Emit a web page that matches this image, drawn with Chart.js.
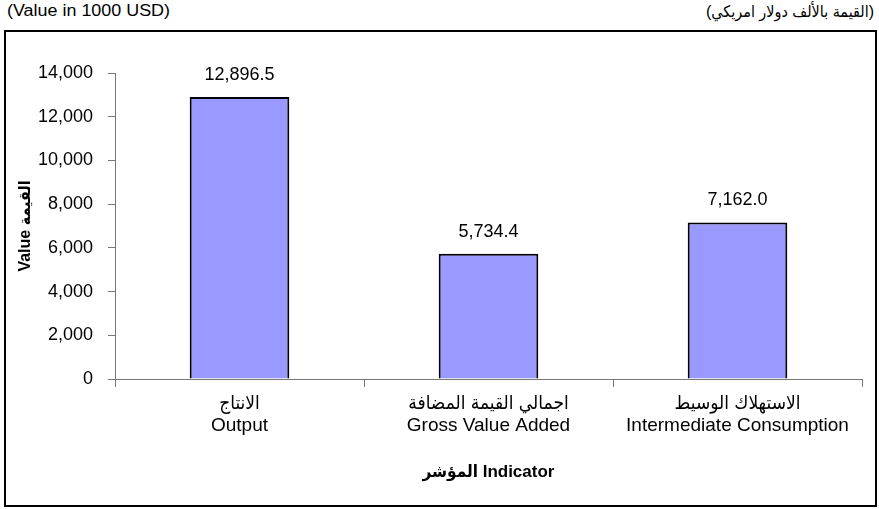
<!DOCTYPE html>
<html>
<head>
<meta charset="utf-8">
<script src="https://cdn.jsdelivr.net/npm/chart.js@4.4.0/dist/chart.umd.min.js"></script>
<style>
  html, body { margin: 0; padding: 0; background: #fff; }
  body { width: 879px; height: 509px; position: relative; font-family: "Liberation Sans", "DejaVu Sans Condensed", Arial, sans-serif; }
  .unit { position: absolute; top: 2px; font-size: 16px; color: #000; white-space: nowrap; }
  #unitEn { left: 7px; transform: scaleX(1.12); transform-origin: left center; }
  #unitAr { right: 5px; direction: rtl; font-size: 16px; top: 2px; }
  #box { position: absolute; left: 4px; top: 30px; width: 869px; height: 473px; border: 2px solid #000; }
  #box canvas { display: block; }
</style>
</head>
<body>
<div class="unit" id="unitEn">(Value in 1000 USD)</div>
<div class="unit" id="unitAr">(القيمة بالألف دولار امريكي)</div>
<div id="box"><canvas id="chart" width="869" height="473"></canvas></div>
<script>
const categories = [
  ['الانتاج', 'Output'],
  ['اجمالي القيمة المضافة', 'Gross Value Added'],
  ['الاستهلاك الوسيط', 'Intermediate Consumption']
];
const values = [12896.5, 5734.4, 7162.0];
const yTicks = [0, 2000, 4000, 6000, 8000, 10000, 12000, 14000];

const FONT = '"Liberation Sans", "DejaVu Sans Condensed", Arial, sans-serif';

// numbers above the bars
const valueLabels = {
  id: 'valueLabels',
  afterDatasetsDraw(chart) {
    const ctx = chart.ctx;
    const meta = chart.getDatasetMeta(0);
    ctx.save();
    ctx.font = '18px ' + FONT;
    ctx.fillStyle = '#000';
    ctx.textAlign = 'center';
    ctx.textBaseline = 'middle';
    meta.data.forEach((bar, i) => {
      const txt = values[i].toLocaleString('en-US', { minimumFractionDigits: 1, maximumFractionDigits: 1 });
      ctx.fillText(txt, bar.x, bar.y - 22);
    });
    ctx.restore();
  }
};

new Chart(document.getElementById('chart'), {
  type: 'bar',
  data: {
    labels: categories,
    datasets: [{
      data: values,
      backgroundColor: '#9999FF',
      borderColor: '#000',
      borderWidth: 2,
      borderSkipped: 'bottom',
      categoryPercentage: 1,
      barPercentage: 0.4
    }]
  },
  options: {
    responsive: false,
    animation: false,
    locale: 'en-US',
    layout: { padding: { top: 41, right: 13, left: 0, bottom: 0 } },
    plugins: {
      legend: { display: false },
      tooltip: { enabled: false }
    },
    scales: {
      x: {
        offset: true,
        grid: { display: true, drawOnChartArea: false, tickLength: 8, color: '#777', offset: true },
        border: { color: '#777', width: 1 },
        ticks: { color: '#000', font: { family: FONT, size: 19, lineHeight: 1.2 }, padding: 5, maxRotation: 0 },
        title: {
          display: true,
          text: 'المؤشر Indicator',
          color: '#000',
          font: { family: FONT, size: 17, weight: 'bold' },
          padding: { top: 0, bottom: 22 }
        },
        afterFit(scale) { scale.height = 126; }
      },
      y: {
        min: 0,
        max: 14000,
        afterBuildTicks(scale) { scale.ticks = yTicks.map(v => ({ value: v })); },
        grid: { display: true, drawOnChartArea: false, tickLength: 7, color: '#777' },
        border: { color: '#777', width: 1 },
        ticks: { color: '#000', font: { family: FONT, size: 18 }, padding: 15 },
        title: {
          display: true,
          text: 'Value القيمة',
          color: '#000',
          font: { family: FONT, size: 16, weight: 'bold' },
          padding: { top: 10, bottom: 0 }
        },
        afterFit(scale) { scale.width = 109; }
      }
    }
  },
  plugins: [valueLabels]
});
</script>
</body>
</html>
